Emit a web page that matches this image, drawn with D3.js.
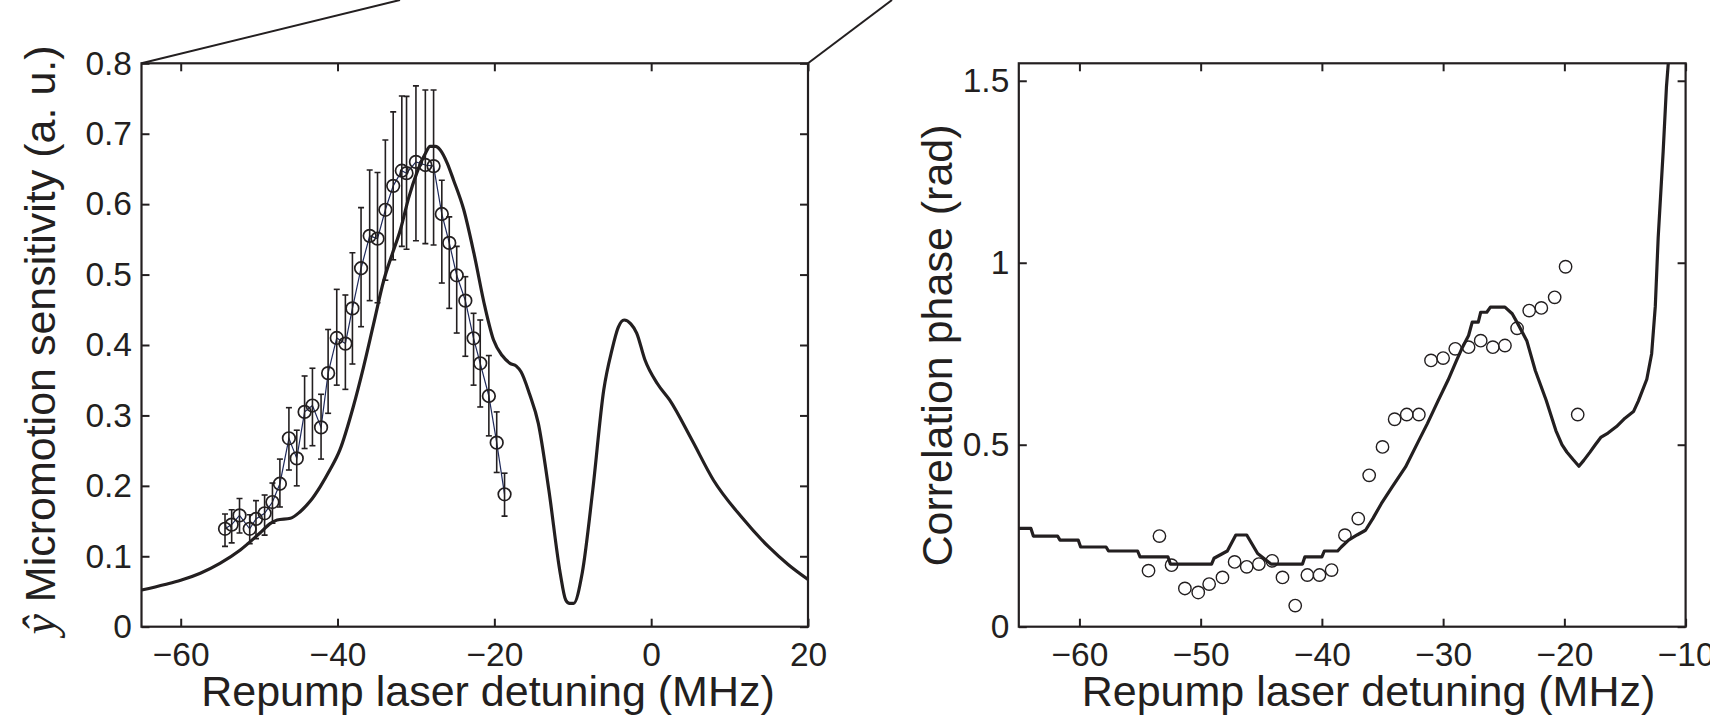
<!DOCTYPE html>
<html>
<head>
<meta charset="utf-8">
<script src="https://cdn.jsdelivr.net/npm/d3@7"></script>
<style>
  body { margin: 0; background: #fff; }
  svg { display: block; background: #fff; }
</style>
</head>
<body>
<svg id="chart" width="1710" height="723"></svg>
<script>
// ---- left panel: micromotion sensitivity (model curve + measured points) ----
var modelLX = [-65, -62, -60, -57.5, -55, -52.4, -50, -48.5, -47.7, -46.0, -44.8, -43.5, -42.2, -41, -39.7,
  -38.0, -36.7, -35.4, -34.1, -33, -32.0, -30.9, -29.9, -28.8, -28.2, -27.5, -26.9, -26, -25.2, -23.9,
  -22.6, -21.2, -20.1, -19, -18.0, -17.2, -16.6, -15.5, -14.4, -13.05, -11.6, -10.9, -10.4, -9.9, -8.8,
  -7.45, -6.05, -5.0, -4.2, -3.45, -2.6, -1.85, -0.8, 0.8, 2.35, 5.2, 7.95, 11.5, 14.96, 17.5, 20];
var modelLY = [0.052, 0.060, 0.066, 0.076, 0.090, 0.109, 0.132, 0.147, 0.1515, 0.154, 0.163, 0.178, 0.199, 0.222, 0.251,
  0.312, 0.368, 0.43, 0.492, 0.53, 0.563, 0.61, 0.644, 0.672, 0.682, 0.682, 0.677, 0.658, 0.634, 0.592,
  0.530, 0.454, 0.407, 0.385, 0.374, 0.37, 0.362, 0.33, 0.289, 0.194, 0.076, 0.038, 0.033, 0.033, 0.076,
  0.194, 0.336, 0.393, 0.425, 0.4355, 0.43, 0.417, 0.379, 0.345, 0.322, 0.265, 0.208, 0.156, 0.1136, 0.088, 0.067];

var dataLX = [-54.35, -53.5, -52.5, -51.2, -50.4, -49.3, -48.3, -47.35, -46.2, -45.2, -44.2, -43.2,
  -42.1, -41.2, -40.1, -39.0, -38.1, -37.0, -35.9, -34.9, -33.9, -32.9, -31.8, -31.2,
  -30.0, -28.8, -27.75, -26.7, -25.75, -24.8, -23.7, -22.65, -21.8, -20.7, -19.7, -18.7];
var dataLY = [0.139, 0.145, 0.158, 0.139, 0.153, 0.161, 0.177, 0.203, 0.2675, 0.239, 0.305, 0.314,
  0.283, 0.36, 0.41, 0.402, 0.452, 0.509, 0.555, 0.551, 0.592, 0.626, 0.6475, 0.644,
  0.66, 0.6556, 0.654, 0.586, 0.545, 0.499, 0.463, 0.4095, 0.374, 0.3276, 0.2613, 0.188];
var dataLLo = [0.114, 0.119, 0.133, 0.118, 0.125, 0.130, 0.147, 0.170, 0.2225, 0.200, 0.253, 0.257,
  0.238, 0.303, 0.343, 0.337, 0.373, 0.426, 0.463, 0.460, 0.492, 0.521, 0.540, 0.536,
  0.548, 0.544, 0.542, 0.488, 0.452, 0.417, 0.384, 0.343, 0.312, 0.271, 0.219, 0.157];
var dataLHi = [0.160, 0.166, 0.182, 0.159, 0.179, 0.187, 0.204, 0.238, 0.311, 0.279, 0.356, 0.367,
  0.330, 0.422, 0.479, 0.471, 0.531, 0.595, 0.6485, 0.645, 0.691, 0.731, 0.7536, 0.753,
  0.768, 0.762, 0.762, 0.634, 0.582, 0.540, 0.497, 0.445, 0.4355, 0.385, 0.305, 0.218];

// ---- right panel: correlation phase ----
var modelRX = [-65, -64.0, -63.8, -61.8, -61.6, -60.1, -59.9, -57.8, -57.6, -55.2, -55.0, -52.7, -52.5,
  -49.1, -48.9, -47.8, -47.1, -46.2, -45.3, -44.8, -44.2, -41.6, -41.4, -40.0, -39.8, -38.7, -38.4,
  -37.8, -37.1, -36.4, -35.8, -35.1, -34.2, -33.1, -32.0, -31.3, -30.4, -29.6, -28.9, -28.4, -27.9,
  -27.6, -27.1, -26.9, -26.4, -26.1, -24.9, -24.3, -23.8, -23.1, -22.4, -21.5, -20.7, -20.2, -19.8,
  -19.3, -18.8, -18.4, -17.9, -17.45, -17.0, -16.4, -15.7, -15.0, -14.3, -13.9, -13.2, -12.8, -12.5,
  -12.26, -11.85, -11.58, -11.4];
var modelRY = [0.270, 0.270, 0.249, 0.249, 0.238, 0.238, 0.219, 0.219, 0.208, 0.208, 0.192, 0.192, 0.172,
  0.172, 0.188, 0.208, 0.252, 0.252, 0.201, 0.188, 0.172, 0.172, 0.192, 0.192, 0.208, 0.208, 0.219,
  0.238, 0.252, 0.265, 0.297, 0.338, 0.384, 0.439, 0.512, 0.558, 0.622, 0.677, 0.731, 0.768, 0.800,
  0.837, 0.837, 0.864, 0.864, 0.878, 0.878, 0.860, 0.830, 0.786, 0.704, 0.622, 0.539, 0.500, 0.480,
  0.460, 0.441, 0.457, 0.479, 0.500, 0.520, 0.532, 0.550, 0.573, 0.591, 0.620, 0.680, 0.750, 0.880,
  1.070, 1.306, 1.483, 1.560];

var dataRX = [-54.3, -53.4, -52.4, -51.3, -50.2, -49.3, -48.2, -47.2, -46.2, -45.2, -44.1, -43.25,
  -42.2, -41.2, -40.2, -39.2, -38.1, -37.0, -36.1, -35.0, -34.0, -33.0, -32.0, -31.0,
  -30.0, -29.0, -27.9, -26.9, -25.9, -24.9, -23.9, -22.9, -21.9, -20.8, -19.9, -18.9];
var dataRY = [0.154, 0.249, 0.169, 0.105, 0.094, 0.117, 0.1355, 0.178, 0.1646, 0.172, 0.181, 0.1355,
  0.058, 0.142, 0.142, 0.1555, 0.2515, 0.297, 0.416, 0.494, 0.570, 0.583, 0.583, 0.7315,
  0.738, 0.7635, 0.768, 0.786, 0.768, 0.7726, 0.820, 0.8686, 0.876, 0.905, 0.989, 0.583];

// ticks
var xTicksL = [-60, -40, -20, 0, 20];
var yTicksL = [0, 0.1, 0.2, 0.3, 0.4, 0.5, 0.6, 0.7, 0.8];
var xTicksR = [-60, -50, -40, -30, -20, -10];
var yTicksR = [0, 0.5, 1, 1.5];

var ink = "#231f20";
var font = "'Liberation Sans', Arial, Helvetica, sans-serif";

var svg = d3.select("#chart");

var xL = d3.scaleLinear().domain([-65, 20]).range([141.5, 808]);
var yL = d3.scaleLinear().domain([0, 0.8]).range([626.7, 63.3]);
var xR = d3.scaleLinear().domain([-65, -10]).range([1018.8, 1685.6]);
var yR = d3.scaleLinear().domain([0, 1.548]).range([626.7, 63.3]);

function fmtL(d) {
  return d === 0 ? "0" : d3.format(".1f")(d);
}

function drawAxes(x, y, xTicks, yTicks, yFormat) {
  var left = x.range()[0], right = x.range()[1];
  var bottom = y.range()[0], top = y.range()[1];
  var g = svg.append("g");

  var axes = [
    { a: d3.axisBottom(x).tickValues(xTicks).tickFormat(d3.format("")).tickPadding(15.5), t: "translate(0," + bottom + ")" },
    { a: d3.axisTop(x).tickValues(xTicks).tickFormat(""), t: "translate(0," + top + ")" },
    { a: d3.axisLeft(y).tickValues(yTicks).tickFormat(yFormat).tickPadding(9.5), t: "translate(" + left + ",0)" },
    { a: d3.axisRight(y).tickValues(yTicks).tickFormat(""), t: "translate(" + right + ",0)" }
  ];
  axes.forEach(function (ax) {
    var ag = g.append("g")
      .attr("transform", ax.t)
      .call(ax.a.tickSizeInner(-8).tickSizeOuter(0));
    ag.select(".domain").remove();
    ag.selectAll(".tick line").attr("stroke", ink).attr("stroke-width", 2);
    ag.selectAll(".tick text")
      .attr("fill", ink)
      .style("font-family", font)
      .style("font-size", "33.5px");
  });

  // frame
  g.append("rect")
    .attr("x", left)
    .attr("y", top)
    .attr("width", right - left)
    .attr("height", bottom - top)
    .attr("fill", "none")
    .attr("stroke", ink)
    .attr("stroke-width", 2.2);
}

function clipFor(id, x, y) {
  svg.append("clipPath").attr("id", id)
    .append("rect")
    .attr("x", x.range()[0])
    .attr("y", y.range()[1])
    .attr("width", x.range()[1] - x.range()[0])
    .attr("height", y.range()[0] - y.range()[1]);
}
clipFor("clipL", xL, yL);
clipFor("clipR", xR, yR);

// zoom-out lines coming from the (cropped) panel above
svg.append("line")
  .attr("x1", xL(-65)).attr("y1", yL(0.8))
  .attr("x2", 400).attr("y2", 0)
  .attr("stroke", ink).attr("stroke-width", 2);
svg.append("line")
  .attr("x1", xL(20)).attr("y1", yL(0.8))
  .attr("x2", 892).attr("y2", 0)
  .attr("stroke", ink).attr("stroke-width", 2);

// ---------- left panel ----------
var modelL = modelLX.map(function (d, i) { return { x: d, y: modelLY[i] }; });
var ptsL = dataLX.map(function (d, i) {
  return { x: d, y: dataLY[i], lo: dataLLo[i], hi: dataLHi[i] };
});

var gL = svg.append("g").attr("clip-path", "url(#clipL)");

gL.append("path")
  .datum(modelL)
  .attr("fill", "none")
  .attr("stroke", ink)
  .attr("stroke-width", 3.2)
  .attr("stroke-linejoin", "round")
  .attr("d", d3.line()
    .x(function (d) { return xL(d.x); })
    .y(function (d) { return yL(d.y); })
    .curve(d3.curveMonotoneX));

gL.append("path")
  .datum(ptsL)
  .attr("fill", "none")
  .attr("stroke", "#1f2a5c")
  .attr("stroke-width", 1.2)
  .attr("d", d3.line()
    .x(function (d) { return xL(d.x); })
    .y(function (d) { return yL(d.y); }));

var bars = gL.append("g").attr("stroke", ink).attr("stroke-width", 1.6);
bars.selectAll("line.bar")
  .data(ptsL)
  .enter()
  .append("line")
  .attr("class", "bar")
  .attr("x1", function (d) { return xL(d.x); })
  .attr("x2", function (d) { return xL(d.x); })
  .attr("y1", function (d) { return yL(d.lo); })
  .attr("y2", function (d) { return yL(d.hi); });
["lo", "hi"].forEach(function (k) {
  bars.selectAll("line.cap-" + k)
    .data(ptsL)
    .enter()
    .append("line")
    .attr("class", "cap-" + k)
    .attr("x1", function (d) { return xL(d.x) - 3; })
    .attr("x2", function (d) { return xL(d.x) + 3; })
    .attr("y1", function (d) { return yL(d[k]); })
    .attr("y2", function (d) { return yL(d[k]); });
});

gL.selectAll("circle")
  .data(ptsL)
  .enter()
  .append("circle")
  .attr("cx", function (d) { return xL(d.x); })
  .attr("cy", function (d) { return yL(d.y); })
  .attr("r", 6.3)
  .attr("fill", "none")
  .attr("stroke", ink)
  .attr("stroke-width", 1.7);

drawAxes(xL, yL, xTicksL, yTicksL, fmtL);

// ---------- right panel ----------
var modelR = modelRX.map(function (d, i) { return { x: d, y: modelRY[i] }; });
var ptsR = dataRX.map(function (d, i) { return { x: d, y: dataRY[i] }; });

var gR = svg.append("g").attr("clip-path", "url(#clipR)");

gR.append("path")
  .datum(modelR)
  .attr("fill", "none")
  .attr("stroke", ink)
  .attr("stroke-width", 3.2)
  .attr("stroke-linejoin", "round")
  .attr("d", d3.line()
    .x(function (d) { return xR(d.x); })
    .y(function (d) { return yR(d.y); }));

gR.selectAll("circle")
  .data(ptsR)
  .enter()
  .append("circle")
  .attr("cx", function (d) { return xR(d.x); })
  .attr("cy", function (d) { return yR(d.y); })
  .attr("r", 6.2)
  .attr("fill", "none")
  .attr("stroke", ink)
  .attr("stroke-width", 1.4);

drawAxes(xR, yR, xTicksR, yTicksR, d3.format(""));

// ---------- axis titles ----------
function title(x, y, rot, parts) {
  var t = svg.append("text")
    .attr("transform", "translate(" + x + "," + y + ")" + (rot ? " rotate(" + rot + ")" : ""))
    .attr("text-anchor", "middle")
    .attr("fill", ink)
    .style("font-family", font)
    .style("font-size", "43px");
  parts.forEach(function (p) {
    var s = t.append("tspan").text(p.text);
    if (p.italic) {
      s.style("font-family", "'Liberation Serif', 'DejaVu Serif', serif")
        .style("font-style", "italic")
        .style("font-size", "46px");
    }
  });
}

title(488, 706, 0, [{ text: "Repump laser detuning (MHz)" }]);
title(1368.5, 706, 0, [{ text: "Repump laser detuning (MHz)" }]);
title(55, 340, -90, [{ text: "\u0177", italic: true }, { text: " Micromotion sensitivity (a. u.)" }]);
title(952, 345.5, -90, [{ text: "Correlation phase (rad)" }]);
</script>
</body>
</html>
